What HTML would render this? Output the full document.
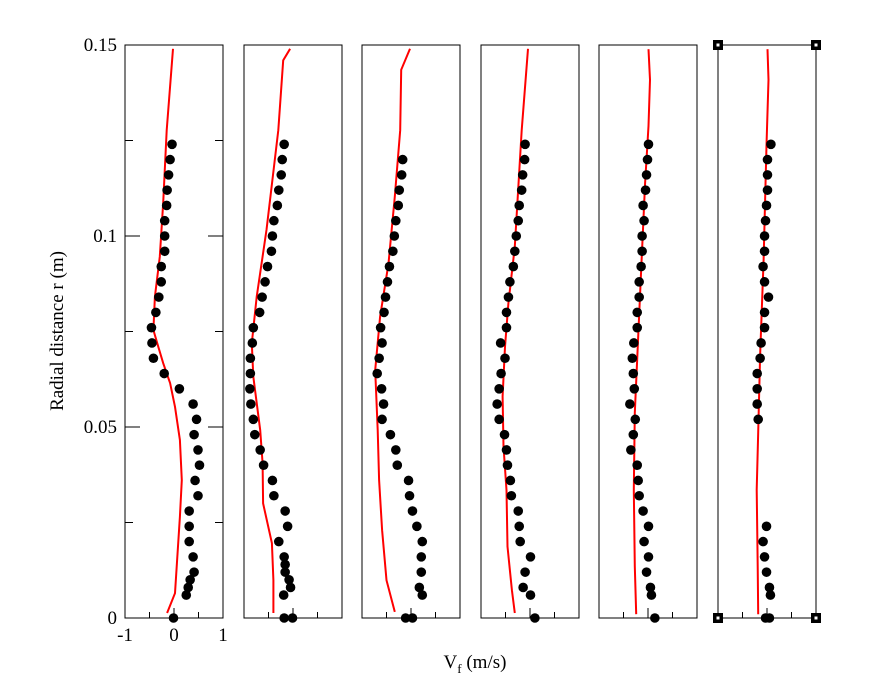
<!DOCTYPE html>
<html><head><meta charset="utf-8"><style>
html,body{margin:0;padding:0;background:#fff;}
svg{display:block;font-family:"Liberation Serif",serif;}
</style></head><body>
<svg id="chart" width="869" height="690" viewBox="0 0 869 690" xmlns="http://www.w3.org/2000/svg">
<text x="0" y="0" font-size="19" text-anchor="middle" transform="translate(63,331) rotate(-90)">Radial distance r (m)</text>
<text x="475" y="668" font-size="19" text-anchor="middle">V<tspan font-size="13" dy="5">f</tspan><tspan dy="-5"> (m/s)</tspan></text>
</svg>
<script>
const panelLefts=[125,244,362,481,599,718];
const panelW=98, yTop=45, yBot=618;
const rMax=0.15, vMin=-1, vMax=1;
const yTicks=[0,0.05,0.1,0.15];
const yTickLabels=["0","0.05","0.1","0.15"];
const xTickLabels=["-1","0","1"];
const dotR=[[0.124,0.120,0.116,0.112,0.108,0.104,0.100,0.096,0.092,0.088,0.084,0.080,0.076,0.072,0.068,0.064,0.060,0.056,0.052,0.048,0.044,0.040,0.036,0.032,0.028,0.024,0.020,0.016,0.012,0.010,0.008,0.006,0],
[0.124,0.120,0.116,0.112,0.108,0.104,0.100,0.096,0.092,0.088,0.084,0.080,0.076,0.072,0.068,0.064,0.060,0.056,0.052,0.048,0.044,0.040,0.036,0.032,0.028,0.024,0.020,0.016,0.014,0.012,0.010,0.008,0.006,0,0],
[0.120,0.116,0.112,0.108,0.104,0.100,0.096,0.092,0.088,0.084,0.080,0.076,0.072,0.068,0.064,0.060,0.056,0.052,0.048,0.044,0.040,0.036,0.032,0.028,0.024,0.020,0.016,0.012,0.008,0.006,0,0],
[0.124,0.120,0.116,0.112,0.108,0.104,0.100,0.096,0.092,0.088,0.084,0.080,0.076,0.072,0.068,0.064,0.060,0.056,0.052,0.048,0.044,0.040,0.036,0.032,0.028,0.024,0.020,0.016,0.012,0.008,0.006,0],
[0.124,0.120,0.116,0.112,0.108,0.104,0.100,0.096,0.092,0.088,0.084,0.080,0.076,0.072,0.068,0.064,0.060,0.056,0.052,0.048,0.044,0.040,0.036,0.032,0.028,0.024,0.020,0.016,0.012,0.008,0.006,0],
[0.124,0.120,0.116,0.112,0.108,0.104,0.100,0.096,0.092,0.088,0.084,0.080,0.076,0.072,0.068,0.064,0.060,0.056,0.052,0.024,0.020,0.016,0.012,0.008,0.006,0,0]];
const dotV=[[-0.04,-0.08,-0.11,-0.14,-0.15,-0.19,-0.19,-0.19,-0.26,-0.26,-0.31,-0.37,-0.46,-0.45,-0.42,-0.20,0.11,0.39,0.46,0.41,0.49,0.52,0.43,0.49,0.31,0.31,0.31,0.39,0.41,0.33,0.29,0.25,-0.01],
[-0.18,-0.22,-0.24,-0.29,-0.32,-0.39,-0.42,-0.44,-0.52,-0.57,-0.63,-0.68,-0.81,-0.83,-0.87,-0.87,-0.88,-0.86,-0.81,-0.78,-0.67,-0.60,-0.42,-0.39,-0.16,-0.11,-0.29,-0.18,-0.16,-0.16,-0.08,-0.05,-0.19,-0.18,-0.01],
[-0.17,-0.19,-0.24,-0.26,-0.31,-0.34,-0.37,-0.44,-0.48,-0.52,-0.55,-0.62,-0.59,-0.65,-0.69,-0.60,-0.56,-0.59,-0.42,-0.31,-0.28,-0.05,-0.03,0.03,0.12,0.23,0.21,0.21,0.17,0.23,-0.11,0.03],
[-0.10,-0.11,-0.15,-0.17,-0.22,-0.24,-0.28,-0.31,-0.34,-0.41,-0.44,-0.48,-0.48,-0.60,-0.51,-0.59,-0.63,-0.67,-0.63,-0.52,-0.48,-0.46,-0.40,-0.38,-0.24,-0.22,-0.20,0.01,-0.10,-0.14,0.01,0.10],
[0.01,-0.01,-0.03,-0.05,-0.10,-0.08,-0.12,-0.12,-0.14,-0.18,-0.18,-0.22,-0.22,-0.29,-0.32,-0.30,-0.28,-0.37,-0.26,-0.30,-0.35,-0.22,-0.20,-0.18,-0.10,0.01,-0.08,0.01,-0.03,0.05,0.07,0.14],
[0.08,0.01,0.01,0.01,-0.01,-0.03,-0.05,-0.05,-0.08,-0.05,0.03,-0.05,-0.05,-0.12,-0.14,-0.20,-0.20,-0.20,-0.18,-0.01,-0.08,-0.05,-0.01,0.05,0.07,-0.03,0.05]];
const lineR=[[0.149,0.1277,0.1087,0.0946,0.0841,0.0754,0.071,0.0667,0.0615,0.0553,0.0466,0.0361,0.0265,0.0143,0.0065,0.0013],
[0.149,0.146,0.1277,0.1016,0.0841,0.0719,0.0632,0.0492,0.0405,0.030,0.0196,0.0099,0.0013],
[0.149,0.1435,0.1277,0.1103,0.0928,0.0789,0.0649,0.0492,0.0361,0.023,0.0099,0.0016],
[0.149,0.1277,0.0972,0.0824,0.071,0.058,0.0449,0.0335,0.0187,0.0073,0.0013],
[0.1489,0.1409,0.1288,0.1139,0.0937,0.0737,0.0537,0.0336,0.0135,0.001],
[0.1489,0.1409,0.1238,0.0937,0.0686,0.0486,0.0336,0.0135,0.001]];
const lineV=[[-0.02,-0.15,-0.22,-0.29,-0.39,-0.42,-0.32,-0.22,-0.08,0.02,0.12,0.16,0.12,0.06,0.02,-0.14],
[-0.06,-0.20,-0.30,-0.54,-0.74,-0.84,-0.81,-0.67,-0.62,-0.61,-0.43,-0.40,-0.40],
[-0.02,-0.20,-0.22,-0.33,-0.46,-0.63,-0.73,-0.68,-0.65,-0.59,-0.50,-0.33],
[-0.04,-0.17,-0.31,-0.44,-0.51,-0.56,-0.54,-0.48,-0.46,-0.37,-0.31],
[0.01,0.04,0.01,-0.06,-0.13,-0.20,-0.27,-0.29,-0.27,-0.24],
[0.01,0.03,-0.01,-0.07,-0.14,-0.18,-0.21,-0.19,-0.18]];
const NS="http://www.w3.org/2000/svg";
const svg=document.getElementById('chart');
function yS(r){return yBot-(r/rMax)*(yBot-yTop);}
function xS(p,v){return panelLefts[p]+(v-vMin)/(vMax-vMin)*panelW;}
function mk(tag,attrs){const e=document.createElementNS(NS,tag);for(const k in attrs)e.setAttribute(k,attrs[k]);svg.appendChild(e);return e;}
for(let p=0;p<6;p++){
  const L=panelLefts[p],R=L+panelW;
  const fr=mk('rect',{x:L,y:yTop,width:panelW,height:yBot-yTop,fill:'none',stroke:'#000','stroke-width':1});
  
  
  [-0.5,0,0.5].forEach(v=>{const len=v===0?10:6;const t=mk('line',{x1:xS(p,v),x2:xS(p,v),y1:yBot,y2:yBot-len,stroke:'#000'});
    
    });
  if(p===0){
    [0,0.025,0.05,0.075,0.1,0.125,0.15].forEach((r,i)=>{const len=i%2===0?15:8;
      const a=mk('line',{x1:L,x2:L+len,y1:yS(r),y2:yS(r),stroke:'#000'});
      
      
      const b=mk('line',{x1:R,x2:R-len,y1:yS(r),y2:yS(r),stroke:'#000'});
      
      });
    yTicks.forEach((r,i)=>{const t=mk('text',{x:L-8,y:yS(r)+6,'font-size':19,'text-anchor':'end'});t.textContent=yTickLabels[i];
      
      });
    [-1,0,1].forEach((v,i)=>{const t=mk('text',{x:xS(p,v),y:yBot+23,'font-size':19,'text-anchor':'middle'});t.textContent=xTickLabels[i];
      
      });
  }
  const pts=lineR[p].map((r,i)=>xS(p,lineV[p][i]).toFixed(1)+','+yS(r).toFixed(1)).join(' ');
  const pl=mk('polyline',{points:pts,fill:'none',stroke:'#f00','stroke-width':2});
  
  
  dotR[p].forEach((r,i)=>{const c=mk('circle',{cx:xS(p,dotV[p][i]),cy:yS(r),r:4.8,fill:'#000'});
    
    });
}
const L6=panelLefts[5];
[[L6,yTop],[L6+panelW,yTop],[L6,yBot],[L6+panelW,yBot]].forEach(([x,y])=>{
  const h=mk('rect',{x:x-5,y:y-5,width:10,height:10,fill:'#000'});
  
  
  const w=mk('rect',{x:x-1.5,y:y-1.5,width:3,height:3,fill:'#fff'});
  
  
});
</script>
</body></html>
